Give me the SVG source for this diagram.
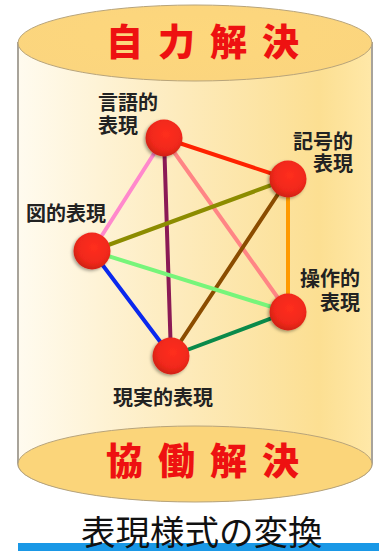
<svg xmlns="http://www.w3.org/2000/svg" width="379" height="551" viewBox="0 0 379 551">
<style>
.lbl{font-family:"Noto Sans CJK JP","Noto Sans CJK SC",sans-serif;font-size:20px;font-weight:bold;fill:#222}
.ttl{font-family:"Noto Sans CJK JP","Noto Sans CJK SC",sans-serif;font-size:37px;font-weight:900;fill:#ee1111;letter-spacing:15px}
.cap{font-family:"Noto Sans CJK JP","Noto Sans CJK SC",sans-serif;font-size:34.5px;font-weight:normal;fill:#111}
.e{stroke-width:4;fill:none;stroke-linecap:round}
.node{fill:url(#rg);filter:url(#sh)}
</style>
<defs>
<linearGradient id="body" x1="0" y1="0" x2="1" y2="0">
<stop offset="0" stop-color="#fffbef"/>
<stop offset="0.45" stop-color="#fdebbd"/>
<stop offset="0.85" stop-color="#fcdf92"/>
<stop offset="1" stop-color="#ffe8a8"/>
</linearGradient>
<radialGradient id="top" cx="0.5" cy="0.4" r="0.6">
<stop offset="0" stop-color="#fdd77c"/>
<stop offset="1" stop-color="#fbd57e"/>
</radialGradient>
<radialGradient id="rg" cx="0.55" cy="0.4" r="0.6">
<stop offset="0" stop-color="#ff2e1e"/>
<stop offset="0.7" stop-color="#f0281a"/>
<stop offset="1" stop-color="#d02216"/>
</radialGradient>
<filter id="sh" x="-30%" y="-30%" width="160%" height="160%">
<feDropShadow dx="-1.5" dy="1.5" stdDeviation="1.5" flood-color="#000" flood-opacity="0.35"/>
</filter>
</defs>
<g id="cylinder">
<path d="M18,43 L18,463 A177,38 0 0 0 372,463 L372,43 Z" fill="url(#body)" stroke="#a8a39a" stroke-width="2"/>
<ellipse cx="195" cy="43" rx="177" ry="38" fill="url(#top)" stroke="#b8a47a" stroke-width="1"/>
<ellipse cx="195" cy="464" rx="177" ry="38" fill="#fbd57a" stroke="#b8a47a" stroke-width="1"/>
</g>
<g id="title-top"><text class="ttl" x="106" y="56">自力解決</text></g>
<g id="title-bottom"><text class="ttl" x="106" y="475">協働解決</text></g>
<g id="connectors">
<line class="e" x1="164" y1="138" x2="288" y2="179" stroke="#ff2200"/>
<line class="e" x1="164" y1="138" x2="92" y2="251" stroke="#ff88cc"/>
<line class="e" x1="164" y1="138" x2="171" y2="356" stroke="#8b1a55"/>
<line class="e" x1="164" y1="138" x2="288" y2="312" stroke="#ff8585"/>
<line class="e" x1="288" y1="179" x2="92" y2="251" stroke="#8c8c00"/>
<line class="e" x1="288" y1="179" x2="171" y2="356" stroke="#8b4c00"/>
<line class="e" x1="288" y1="179" x2="288" y2="312" stroke="#ff9a00"/>
<line class="e" x1="92" y1="251" x2="288" y2="312" stroke="#77f57a"/>
<line class="e" x1="92" y1="251" x2="171" y2="356" stroke="#0a28ee"/>
<line class="e" x1="171" y1="356" x2="288" y2="312" stroke="#0a8a4a"/>
</g>
<g id="n-gengo"><circle class="node" cx="164" cy="138" r="18.5"/><text class="lbl" x="98" y="110">言語的</text><text class="lbl" x="98" y="133">表現</text></g>
<g id="n-kigo"><circle class="node" cx="288" cy="179" r="18.5"/><text class="lbl" x="293" y="149">記号的</text><text class="lbl" x="313" y="171">表現</text></g>
<g id="n-zu"><circle class="node" cx="92" cy="251" r="18.5"/><text class="lbl" x="26" y="221">図的表現</text></g>
<g id="n-sosa"><circle class="node" cx="288" cy="312" r="18.5"/><text class="lbl" x="300" y="286">操作的</text><text class="lbl" x="320" y="310">表現</text></g>
<g id="n-genjitsu"><circle class="node" cx="171" cy="356" r="18.5"/><text class="lbl" x="113" y="405">現実的表現</text></g>
<g id="caption">
<rect x="18" y="543" width="361" height="8" fill="#1a98e6"/>
<text class="cap" x="81" y="545">表現様式の変換</text>
</g>
</svg>
